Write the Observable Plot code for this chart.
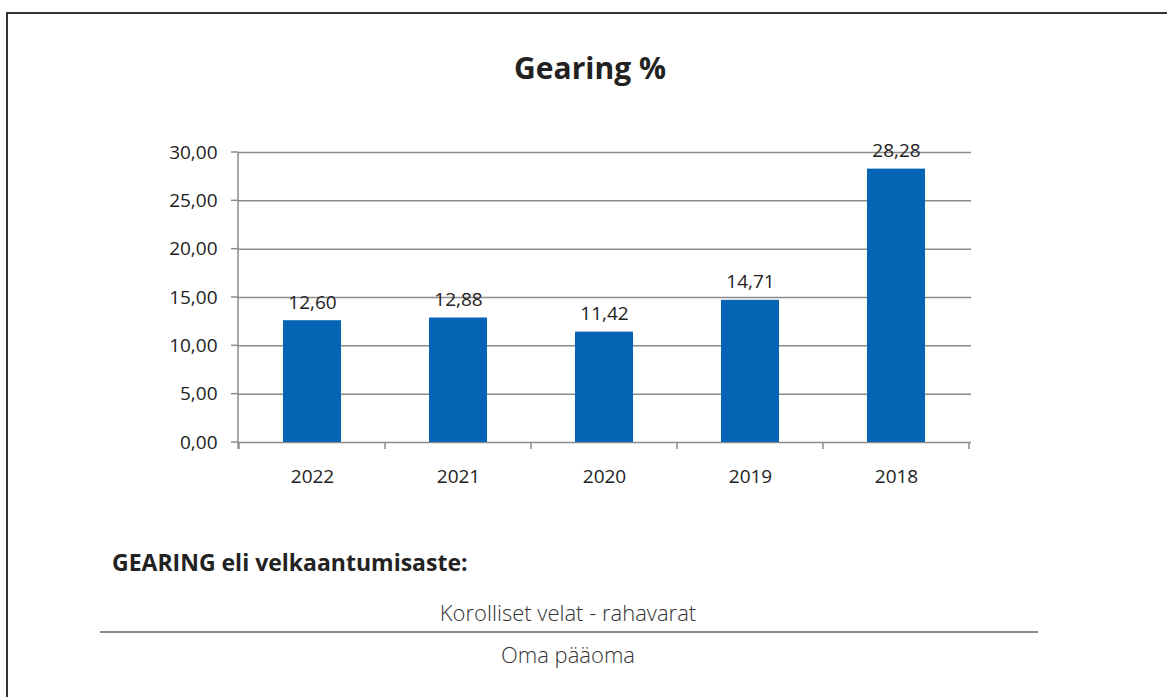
<!DOCTYPE html>
<html><head><meta charset="utf-8">
<script src="https://cdn.jsdelivr.net/npm/d3@7"></script>
<script src="https://cdn.jsdelivr.net/npm/@observablehq/plot@0.6"></script>
<style>
body{margin:0;background:#fff;font-family:"Open Sans",sans-serif;color:#222}
#page{position:relative;width:1167px;height:697px;overflow:hidden;background:#fff}
#frame{position:absolute;left:6px;top:12px;width:1300px;height:800px;border-top:2px solid #333;border-left:2px solid #333}
#chart{position:absolute;left:0;top:0}
.t{position:absolute;white-space:nowrap;line-height:1}
#title{left:0;width:1180px;top:53px;text-align:center;font-weight:bold;font-size:30px;color:#222}
#def{left:112px;top:551px;font-weight:bold;font-size:23px;color:#222}
#num{left:0;width:1136px;top:601px;text-align:center;font-size:22px;font-weight:300;color:#333}
#den{left:0;width:1136px;top:643px;text-align:center;font-size:22px;font-weight:300;color:#333}
#bar{position:absolute;left:100px;width:938px;top:631px;height:0;border-top:2px solid #8a8a8a}
</style></head>
<body>
<div id="page">
  <div id="frame"></div>
  <div id="chart"></div>
  <div class="t" id="title"></div>
  <div class="t" id="def"></div>
  <div class="t" id="num"></div>
  <div id="bar"></div>
  <div class="t" id="den"></div>
</div>
<script>
const titleText = "Gearing %";
const years = ["2022", "2021", "2020", "2019", "2018"];
const values = [12.60, 12.88, 11.42, 14.71, 28.28];
const yTicks = [0, 5, 10, 15, 20, 25, 30];
const definitionText = "GEARING eli velkaantumisaste:";
const numeratorText = "Korolliset velat - rahavarat";
const denominatorText = "Oma pääoma";

document.getElementById("title").textContent = titleText;
document.getElementById("def").textContent = definitionText;
document.getElementById("num").textContent = numeratorText;
document.getElementById("den").textContent = denominatorText;

const data = years.map((year, i) => ({year, value: values[i]}));
const fmt = v => v.toFixed(2).replace(".", ",");
const gray = "#8c8c8c";

const axisLines = (index, scales, values, dim) => {
  const x = scales.x, y = scales.y;
  const g = d3.create("svg:g").attr("stroke", gray).attr("stroke-width", 1.5).attr("fill", "none");
  const left = dim.marginLeft, right = dim.width - dim.marginRight;
  const y0 = y(0), yTop = y(d3.max(yTicks));
  g.append("line").attr("x1", left).attr("x2", left).attr("y1", yTop).attr("y2", y0 + 7);
  for (const t of yTicks) g.append("line").attr("x1", left - 7).attr("x2", left).attr("y1", y(t)).attr("y2", y(t));
  const step = x.step ? x.step() : (right - left) / years.length;
  const bw = x.bandwidth ? x.bandwidth() : 0;
  const bounds = years.map(c => x(c) + bw / 2 - step / 2);
  bounds.push(x(years[years.length - 1]) + bw / 2 + step / 2);
  for (const b of bounds) g.append("line").attr("x1", b).attr("x2", b).attr("y1", y0).attr("y2", y0 + 7);
  return g.node();
};

const chart = Plot.plot({
  width: 1167,
  height: 500,
  marginLeft: 238,
  marginRight: 196,
  marginTop: 152,
  marginBottom: 58,
  style: {fontFamily: "'Open Sans', sans-serif", fontSize: "19px", color: "#222", background: "transparent", overflow: "visible"},
  x: {domain: years, paddingInner: 0.6, paddingOuter: 0.3, tickSize: 0, tickPadding: 27, label: null},
  y: {domain: [0, 30], ticks: yTicks, tickSize: 0, tickPadding: 21, tickFormat: fmt, label: null},
  marks: [
    Plot.ruleY(yTicks, {stroke: gray, strokeWidth: 1.5}),
    Plot.barY(data, {x: "year", y: "value", fill: "#0565B4"}),
    Plot.text(data, {x: "year", y: "value", text: d => fmt(d.value), dy: -18, fontSize: 19, fill: "#222"}),
    axisLines
  ]
});
document.getElementById("chart").appendChild(chart);
</script>
</body></html>
